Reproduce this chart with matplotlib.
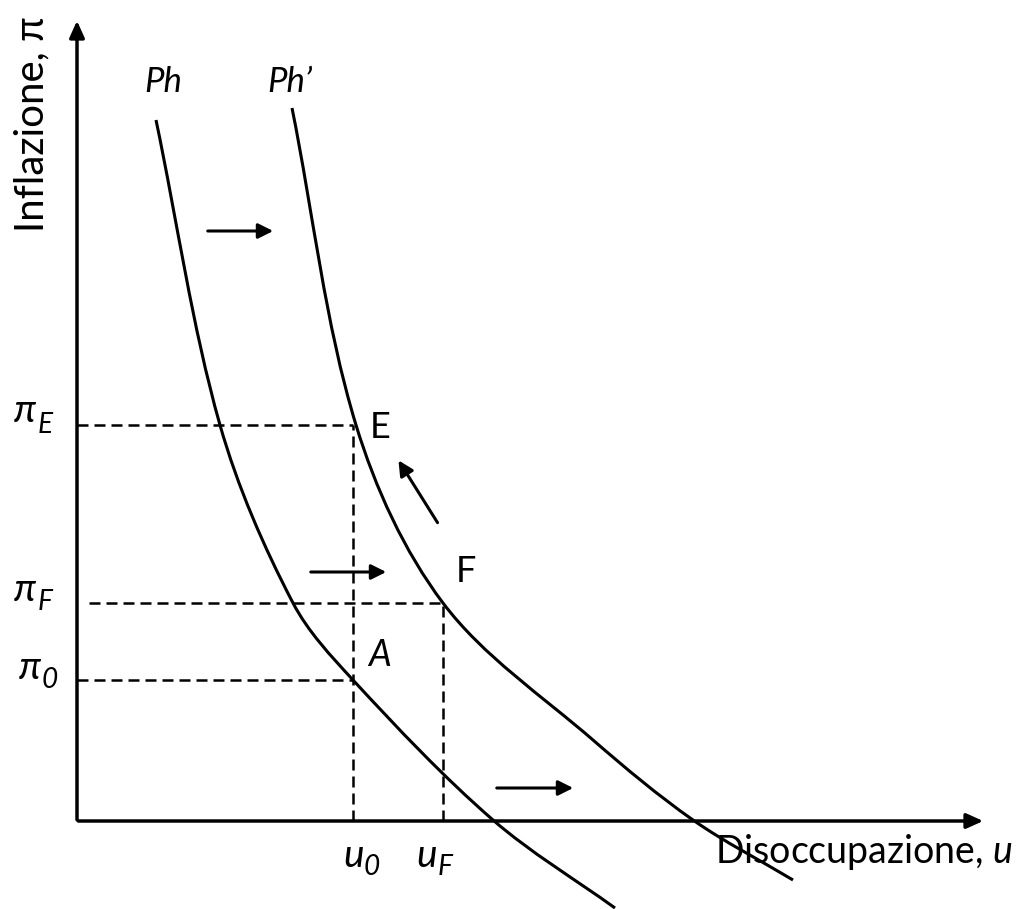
import matplotlib.pyplot as plt
import numpy as np
from matplotlib.path import Path
from matplotlib.patches import PathPatch

plt.rcParams['font.family'] = ['Lato', 'DejaVu Sans']
plt.rcParams['mathtext.fontset'] = 'custom'
plt.rcParams['mathtext.rm'] = 'Lato'
plt.rcParams['mathtext.it'] = 'Lato:italic'

## curve points (u, pi), origin at the axes corner ##
ph_u = [79, 143, 216, 276, 416, 538]
ph_pi = [701, 396, 218, 141, 1, -87]

ph2_u = [215, 279, 366, 516, 616, 716]
ph2_pi = [713, 396, 218, 81, 1, -59]

# equilibrium levels
u0, uF = 276, 366
pi0, piF, piE = 141, 218, 396


def smooth_path(xs, ys):
    # cubic spline through the points, tangents scaled by chord length
    pts = np.column_stack([xs, ys]).astype(float)
    n = len(pts)
    d = np.linalg.norm(np.diff(pts, axis=0), axis=1)
    tan = np.zeros_like(pts)
    tan[0] = (pts[1] - pts[0]) / d[0]
    tan[-1] = (pts[-1] - pts[-2]) / d[-1]
    for i in range(1, n - 1):
        tan[i] = (pts[i + 1] - pts[i - 1]) / (d[i - 1] + d[i])
    verts = [pts[0]]
    codes = [Path.MOVETO]
    for i in range(n - 1):
        verts += [pts[i] + tan[i] * d[i] / 3, pts[i + 1] - tan[i + 1] * d[i] / 3, pts[i + 1]]
        codes += [Path.CURVE4] * 3
    return Path(verts, codes)


def sub_label(ax, x, y, main, sub, fs, dx, dy):
    ax.text(x, y, main, fontsize=fs, style='italic', ha='center', va='center')
    ax.text(x + dx, y + dy, sub, fontsize=fs * 0.72, style='italic', ha='center', va='center')


fig = plt.figure(figsize=(10.18, 9.09), dpi=100)
ax = fig.add_axes([0, 0, 1, 1])
ax.set_xlim(-77, 941)
ax.set_ylim(-88, 821)
ax.axis('off')

# axes with arrow heads
ax.annotate('', xy=(0, 803), xytext=(0, -1.5),
            arrowprops=dict(arrowstyle='-|>,head_length=1.0,head_width=0.45', lw=2.5, color='black'))
ax.annotate('', xy=(909, 0), xytext=(-1.5, 0),
            arrowprops=dict(arrowstyle='-|>,head_length=1.0,head_width=0.45', lw=2.5, color='black'))

# Phillips curves
for xs, ys in [(ph_u, ph_pi), (ph2_u, ph2_pi)]:
    ax.add_patch(PathPatch(smooth_path(xs, ys), facecolor='none', edgecolor='black', lw=2.2))

# dashed guides
dash = dict(color='black', lw=1.8, dashes=(4.4, 2.4))
ax.plot([0, u0], [piE, piE], **dash)
ax.plot([u0, u0], [0, piE], **dash)
ax.plot([12, uF], [piF, piF], **dash)
ax.plot([uF, uF], [0, piF], **dash)
ax.plot([0, u0], [pi0, pi0], **dash)

# shift arrows
arr = dict(arrowstyle='-|>,head_length=0.9,head_width=0.45', lw=2.2, color='black')
ax.annotate('', xy=(199, 590), xytext=(128, 590), arrowprops=arr)
ax.annotate('', xy=(312, 249), xytext=(231, 249), arrowprops=arr)
ax.annotate('', xy=(499, 33), xytext=(417, 33), arrowprops=arr)
ax.annotate('', xy=(320, 363), xytext=(362, 296), arrowprops=arr)

ax.text(86, 739, 'Ph', fontsize=25, style='italic', ha='center', va='center')
ax.text(213, 739, 'Ph\u2019', fontsize=25, style='italic', ha='center', va='center')
ax.text(303, 394, 'E', fontsize=26, ha='center', va='center')
ax.text(389, 249, 'F', fontsize=26, ha='center', va='center')
ax.text(303, 165, 'A', fontsize=26, style='italic', ha='center', va='center')

sub_label(ax, -52, 410, '\u03c0', 'E', 28, 20, -14)
sub_label(ax, -52, 231, '\u03c0', 'F', 28, 20, -12)
sub_label(ax, -47, 153, '\u03c0', '0', 28, 20, -12)
sub_label(ax, 277, -35, 'u', '0', 28, 18, -11)
sub_label(ax, 350, -35, 'u', 'F', 28, 18, -11)

ax.text(936, -31, 'Disoccupazione, $u$', fontsize=27, ha='right', va='center')
ax.text(-45, 589, 'Inflazione, \u03c0', fontsize=29, rotation=90, ha='center', va='bottom')

fig.savefig('out.png', dpi=100)
